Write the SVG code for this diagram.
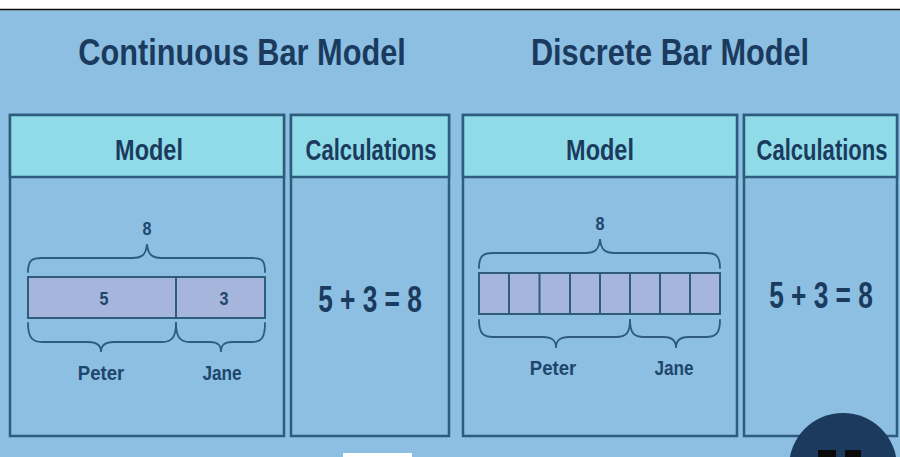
<svg xmlns="http://www.w3.org/2000/svg" width="900" height="457" viewBox="0 0 900 457">
<style>
.title{font-family:"Liberation Sans",Arial,sans-serif;font-weight:bold;font-size:37px;fill:#1b3b5e;text-anchor:middle;}
.hdr{font-family:"Liberation Sans",Arial,sans-serif;font-weight:bold;font-size:29px;fill:#1b3b5e;text-anchor:middle;}
.lbl{font-family:"Liberation Sans",Arial,sans-serif;font-weight:bold;font-size:20px;fill:#21466d;text-anchor:middle;}
.num{font-family:"Liberation Sans",Arial,sans-serif;font-weight:bold;font-size:19px;fill:#21466d;text-anchor:middle;}
.calc{font-family:"Liberation Sans",Arial,sans-serif;font-weight:bold;font-size:36px;fill:#1b3b5e;text-anchor:middle;}
.box{fill:#8cbfe2;stroke:#2f5b7d;stroke-width:2.5;}
.head{fill:#8fdbe8;stroke:#2f5b7d;stroke-width:2.5;}
.bar{fill:#a6b5dc;stroke:#2f5b7d;stroke-width:2;}
.div{stroke:#2f5b7d;stroke-width:2;}
.brace{fill:none;stroke:#2f5b7d;stroke-width:1.8;stroke-linecap:round;}
</style>
<rect x="0" y="0" width="900" height="457" fill="#8cbfe2"/>
<rect x="0" y="0" width="900" height="9" fill="#ffffff"/>
<line x1="0" y1="9.5" x2="900" y2="9.5" stroke="#111" stroke-width="1.5"/>

<g id="title-continuous"><text class="title" transform="translate(242,65) scale(0.83,1)">Continuous Bar Model</text></g>
<g id="title-discrete"><text class="title" transform="translate(670,65) scale(0.83,1)">Discrete Bar Model</text></g>

<g id="box-model-continuous">
<rect class="box" x="10" y="115" width="274" height="321"/>
<rect class="head" x="10" y="115" width="274" height="62"/>
<text class="hdr" transform="translate(149,160) scale(0.81,1)">Model</text>
<text class="num" transform="translate(147,235) scale(0.85,1)">8</text>
<path class="brace" d="M28 272 C28 260 32 258 42 258 L132 258 C143 258 146 254 147 244 C148 254 151 258 162 258 L252 258 C262 258 265 260 265 272"/>
<rect class="bar" x="28" y="277" width="237" height="41"/>
<line class="div" x1="176" y1="277" x2="176" y2="318"/>
<text class="num" transform="translate(104,305) scale(0.85,1)">5</text>
<text class="num" transform="translate(224,305) scale(0.85,1)">3</text>
<path class="brace" d="M28 323 C28 337 32 342 42 342 L88 342 C98 342 101 346 101 352 C101 346 104 342 114 342 L162 342 C172 342 176 337 176 323"/>
<path class="brace" d="M176 323 C176 337 180 342 190 342 L210 342 C219 342 221 346 221 352 C221 346 223 342 232 342 L252 342 C262 342 265 337 265 323"/>
<text class="lbl" transform="translate(101,380) scale(0.93,1)">Peter</text>
<text class="lbl" transform="translate(222,380) scale(0.86,1)">Jane</text>
</g>

<g id="box-calc-continuous">
<rect class="box" x="291" y="115" width="158" height="321"/>
<rect class="head" x="291" y="115" width="158" height="62"/>
<text class="hdr" transform="translate(371,160) scale(0.76,1)">Calculations</text>
<text class="calc" transform="translate(370,312) scale(0.73,1)">5 + 3 = 8</text>
</g>

<g id="box-model-discrete">
<rect class="box" x="463" y="115" width="274" height="321"/>
<rect class="head" x="463" y="115" width="274" height="62"/>
<text class="hdr" transform="translate(600,160) scale(0.81,1)">Model</text>
<text class="num" transform="translate(600,230) scale(0.85,1)">8</text>
<path class="brace" d="M479 268 C479 256 483 253 493 253 L585 253 C596 253 599 249 600 239 C601 249 604 253 615 253 L706 253 C716 253 720 256 720 268"/>
<rect class="bar" x="479" y="273" width="241" height="41"/>
<line class="div" x1="509" y1="273" x2="509" y2="314"/>
<line class="div" x1="539.5" y1="273" x2="539.5" y2="314"/>
<line class="div" x1="570" y1="273" x2="570" y2="314"/>
<line class="div" x1="600" y1="273" x2="600" y2="314"/>
<line class="div" x1="630" y1="273" x2="630" y2="314"/>
<line class="div" x1="660" y1="273" x2="660" y2="314"/>
<line class="div" x1="690" y1="273" x2="690" y2="314"/>
<path class="brace" d="M479 320 C479 333 483 337 493 337 L543 337 C553 337 556 341 556 348 C556 341 559 337 569 337 L616 337 C626 337 630 333 630 320"/>
<path class="brace" d="M630 320 C630 333 634 337 644 337 L664 337 C673 337 676 341 676 348 C676 341 679 337 688 337 L706 337 C716 337 720 333 720 320"/>
<text class="lbl" transform="translate(553,375) scale(0.93,1)">Peter</text>
<text class="lbl" transform="translate(674,375) scale(0.86,1)">Jane</text>
</g>

<g id="box-calc-discrete">
<rect class="box" x="744" y="115" width="153" height="321"/>
<rect class="head" x="744" y="115" width="153" height="62"/>
<text class="hdr" transform="translate(822,160) scale(0.76,1)">Calculations</text>
<text class="calc" transform="translate(821,308) scale(0.73,1)">5 + 3 = 8</text>
</g>

<g id="connectors"></g>

<rect x="343" y="453" width="69" height="4" fill="#ffffff"/>
<circle cx="843" cy="467" r="54" fill="#1b3a5e"/>
<rect x="818" y="450" width="18" height="7" fill="#0a0a0a"/>
<rect x="845" y="450" width="16" height="7" fill="#0a0a0a"/>
</svg>
